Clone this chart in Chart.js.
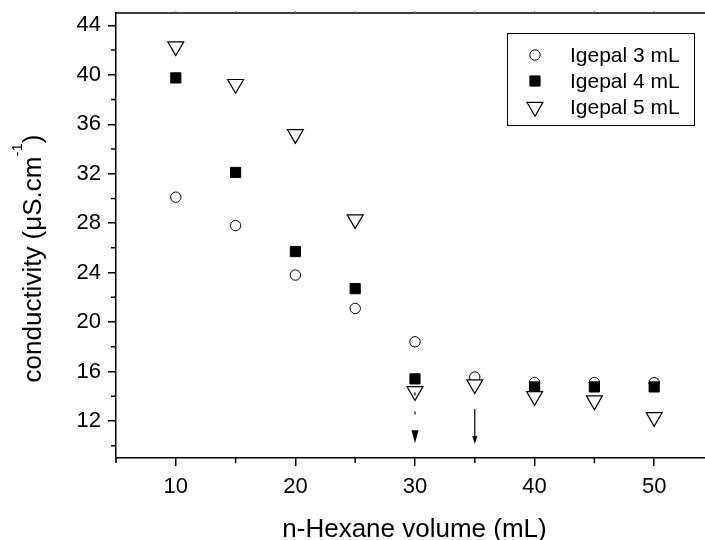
<!DOCTYPE html>
<html>
<head>
<meta charset="utf-8">
<script src="https://cdn.jsdelivr.net/npm/chart.js@4.4.0/dist/chart.umd.min.js"></script>
<style>
  html, body { margin: 0; padding: 0; background: #fff; overflow: hidden; }
  #wrap { width: 705px; height: 540px; }
</style>
</head>
<body>
<div id="wrap"><canvas id="chart" width="705" height="540"></canvas></div>
<script>
const volumes = [10, 15, 20, 25, 30, 35, 40, 45, 50];
const igepal3 = [30.1, 27.8, 23.8, 21.1, 18.4, 15.55, 15.1, 15.1, 15.1];
const igepal4 = [39.75, 32.1, 25.7, 22.7, 15.4, null, 14.75, 14.75, 14.75];
const igepal5 = [42.3, 39.25, 35.2, 28.3, 14.4, 14.95, 14.0, 13.65, 12.3];
const seriesNames = ["Igepal 3 mL", "Igepal 4 mL", "Igepal 5 mL"];

const xMajorTicks = [10, 20, 30, 40, 50];
const xMinorTicks = [5, 15, 25, 35, 45];
const yMajorTicks = [12, 16, 20, 24, 28, 32, 36, 40, 44];
const yMinorTicks = [10, 14, 18, 22, 26, 30, 34, 38, 42];

// the two arrows under the 30 and 35 mL points (data units)
const arrowX = [30, 35];
const arrowFrom = [14.3, 12.97];
const arrowTo = [10.2, 10.13];

const FONT = '"Liberation Sans", Arial, sans-serif';

function pts(ys) {
  return volumes.map((v, i) => ({x: v, y: ys[i]}));
}

// top frame, minor ticks, arrows, axis titles and the boxed legend
const extras = {
  id: 'extras',
  afterDraw(chart) {
    const {ctx, chartArea: a, scales: {x, y}} = chart;
    ctx.save();
    ctx.strokeStyle = '#000';
    ctx.lineWidth = 1.5;

    ctx.beginPath();
    ctx.moveTo(a.left, a.top);
    ctx.lineTo(a.right, a.top);
    ctx.stroke();

    ctx.beginPath();
    xMinorTicks.forEach(v => {
      const px = x.getPixelForValue(v);
      ctx.moveTo(px, a.bottom); ctx.lineTo(px, a.bottom + 5);
    });
    yMinorTicks.forEach(v => {
      const py = y.getPixelForValue(v);
      ctx.moveTo(a.left, py); ctx.lineTo(a.left - 5, py);
    });
    ctx.stroke();

    // tiny ticks on top frame
    ctx.lineWidth = 1;
    ctx.strokeStyle = '#666';
    ctx.beginPath();
    xMajorTicks.concat(xMinorTicks).forEach(v => {
      const px = x.getPixelForValue(v);
      if (px > a.left + 2) { ctx.moveTo(px, a.top); ctx.lineTo(px, a.top - 2); }
    });
    ctx.stroke();

    // arrows
    const heads = [[7, 13], [5, 8]];
    const dashes = [[3, 16], []];
    ctx.strokeStyle = '#000';
    ctx.fillStyle = '#000';
    arrowX.forEach((v, i) => {
      const px = x.getPixelForValue(v);
      const y0 = y.getPixelForValue(arrowFrom[i]);
      const y1 = y.getPixelForValue(arrowTo[i]);
      const [hw, hl] = heads[i];
      ctx.lineWidth = 1.2;
      ctx.setLineDash(dashes[i]);
      ctx.beginPath();
      ctx.moveTo(px, y0); ctx.lineTo(px, y1 - hl);
      ctx.stroke();
      ctx.setLineDash([]);
      ctx.beginPath();
      ctx.moveTo(px - hw / 2, y1 - hl);
      ctx.lineTo(px + hw / 2, y1 - hl);
      ctx.lineTo(px, y1);
      ctx.closePath();
      ctx.fill();
    });

    // x title
    ctx.fillStyle = '#000';
    ctx.font = '26px ' + FONT;
    ctx.textAlign = 'center';
    ctx.textBaseline = 'alphabetic';
    ctx.fillText('n-Hexane volume (mL)', a.left + (a.right - a.left) / 2 + 4, 537);

    // y title with superscript
    ctx.save();
    ctx.translate(41, a.top + (a.bottom - a.top) / 2 + 23);
    ctx.rotate(-Math.PI / 2);
    ctx.textAlign = 'left';
    const main = 'conductivity (\u03BCS.cm', sup = '-1', close = ')';
    ctx.font = '26px ' + FONT;
    const w1 = ctx.measureText(main).width, w3 = ctx.measureText(close).width;
    ctx.font = '15px ' + FONT;
    const w2 = ctx.measureText(sup).width;
    let sx = -(w1 + w2 + w3) / 2;
    ctx.font = '26px ' + FONT;
    ctx.fillText(main, sx, 0);
    ctx.font = '15px ' + FONT;
    ctx.fillText(sup, sx + w1, -19);
    ctx.font = '26px ' + FONT;
    ctx.fillText(close, sx + w1 + w2, 0);
    ctx.restore();

    // legend
    const bx = a.right - 198, by = a.top + 20, bw = 187, bh = 92;
    ctx.lineWidth = 1;
    ctx.strokeStyle = '#000';
    ctx.fillStyle = '#fff';
    ctx.fillRect(bx, by, bw, bh);
    ctx.strokeRect(bx + 0.5, by + 0.5, bw, bh);
    chart.data.datasets.forEach((ds, i) => {
      const cy = by + 22 + i * 26;
      ctx.fillStyle = ds.pointBackgroundColor;
      ctx.strokeStyle = ds.pointBorderColor;
      ctx.lineWidth = ds.pointBorderWidth;
      Chart.helpers.drawPoint(ctx, {
        pointStyle: ds.pointStyle,
        radius: ds.pointRadius,
        rotation: ds.pointRotation || 0,
        borderWidth: ds.pointBorderWidth
      }, bx + 28, cy);
      ctx.fillStyle = '#000';
      ctx.font = '21px ' + FONT;
      ctx.textAlign = 'left';
      ctx.textBaseline = 'middle';
      ctx.fillText(ds.label, bx + 63, cy + 1);
    });
    ctx.restore();
  }
};

new Chart(document.getElementById('chart'), {
  type: 'scatter',
  data: {
    datasets: [{
      label: seriesNames[0],
      data: pts(igepal3),
      pointStyle: 'circle',
      pointRadius: 5.2,
      pointBackgroundColor: '#fff',
      pointBorderColor: '#000',
      pointBorderWidth: 1,
      order: 3
    }, {
      label: seriesNames[1],
      data: pts(igepal4),
      pointStyle: 'rect',
      pointRadius: 7.2,
      pointBackgroundColor: '#000',
      pointBorderColor: '#000',
      pointBorderWidth: 1,
      order: 2
    }, {
      label: seriesNames[2],
      data: pts(igepal5),
      pointStyle: 'triangle',
      pointRotation: 180,
      pointRadius: 9.2,
      pointBackgroundColor: '#fff',
      pointBorderColor: '#000',
      pointBorderWidth: 1.2,
      order: 1
    }]
  },
  options: {
    responsive: false,
    animation: false,
    events: [],
    layout: { autoPadding: false, padding: { top: 13, right: 0, bottom: 0, left: 0 } },
    plugins: {
      legend: { display: false },
      tooltip: { enabled: false }
    },
    scales: {
      x: {
        type: 'linear',
        min: 5,
        max: 54.25,
        afterBuildTicks: s => { s.ticks = xMajorTicks.map(v => ({value: v})); },
        afterFit: s => { s.height = 82; s.paddingLeft = 0; s.paddingRight = 0; },
        grid: { drawOnChartArea: false, tickLength: 8, color: '#000', lineWidth: 1.5 },
        border: { color: '#000', width: 1.5 },
        ticks: { autoSkip: false, maxRotation: 0, padding: 8, color: '#000', font: { size: 22, family: FONT } }
      },
      y: {
        type: 'linear',
        min: 9,
        max: 45,
        afterBuildTicks: s => { s.ticks = yMajorTicks.map(v => ({value: v})); },
        afterFit: s => { s.width = 116; s.paddingTop = 0; s.paddingBottom = 0; },
        grid: { drawOnChartArea: false, tickLength: 8, color: '#000', lineWidth: 1.5 },
        border: { color: '#000', width: 1.5 },
        ticks: { autoSkip: false, padding: 7, color: '#000', font: { size: 22, family: FONT } }
      }
    }
  },
  plugins: [extras]
});
</script>
</body>
</html>
